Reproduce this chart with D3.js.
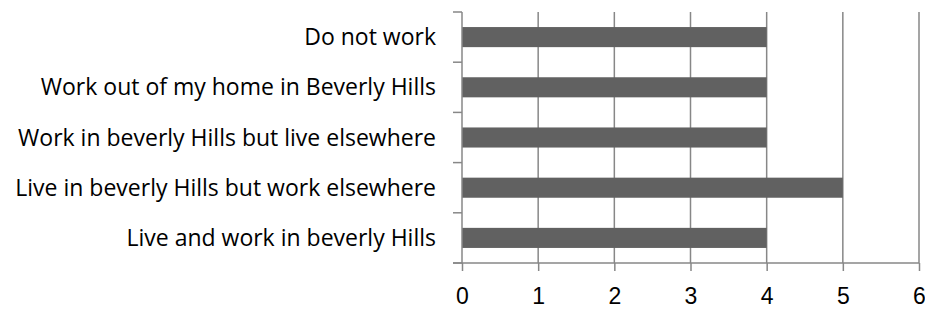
<!DOCTYPE html>
<html>
<head>
    <meta charset="utf-8">
    <style>
        body { margin: 0; background: #fff; }
        svg { display: block; font-family: "Open Sans", Arial, sans-serif; }
        .tick text { font-size: 23px; fill: #000; }
    </style>
</head>
<body>
<svg width="925" height="309"></svg>
<script src="https://d3js.org/d3.v7.min.js"></script>
<script>
    // categories, top to bottom
    let categories = [
        "Do not work",
        "Work out of my home in Beverly Hills",
        "Work in beverly Hills but live elsewhere",
        "Live in beverly Hills but work elsewhere",
        "Live and work in beverly Hills"
    ]
    let values = [4, 4, 4, 5, 4]
    let xTicks = [0, 1, 2, 3, 4, 5, 6]

    let data = categories.map((c, i) => ({ name: c, value: values[i] }))

    let margin = { top: 12, right: 6, bottom: 46, left: 462 }
    let width = 925, height = 309

    let svg = d3.select("svg")
    let axisColor = "#878787"

    let x = d3.scaleLinear()
        .domain([0, 6])
        .range([margin.left, width - margin.right])

    let y = d3.scaleBand()
        .domain(categories)
        .range([margin.top, height - margin.bottom])
        .paddingInner(0.6)
        .paddingOuter(0.3)

    // vertical gridlines
    svg.append("g")
        .selectAll("line")
        .data(xTicks.slice(1))
        .join("line")
        .attr("x1", d => x(d))
        .attr("x2", d => x(d))
        .attr("y1", margin.top)
        .attr("y2", height - margin.bottom)
        .attr("stroke", axisColor)
        .attr("stroke-width", 1.5)

    // bars
    svg.append("g")
        .selectAll("rect")
        .data(data)
        .join("rect")
        .attr("x", x(0))
        .attr("y", d => y(d.name))
        .attr("width", d => x(d.value) - x(0))
        .attr("height", y.bandwidth())
        .attr("fill", "#616161")

    // x axis
    let xAxis = svg.append("g")
        .attr("transform", `translate(0,${height - margin.bottom})`)
        .call(d3.axisBottom(x).tickValues(xTicks).tickFormat(d3.format("d"))
            .tickSize(8).tickPadding(17).tickSizeOuter(0))
    xAxis.select(".domain").attr("stroke", axisColor).attr("stroke-width", 1.5)
        .attr("d", `M${x(0) - 9},0H${x(6)}`)
    xAxis.selectAll(".tick line").attr("stroke", axisColor).attr("stroke-width", 1.5)

    // y axis: ticks sit on the band boundaries
    let boundaries = d3.range(categories.length + 1).map(i => margin.top + i * (height - margin.bottom - margin.top) / categories.length)
    let yAxis = svg.append("g")
    yAxis.append("line")
        .attr("x1", x(0)).attr("x2", x(0))
        .attr("y1", margin.top).attr("y2", height - margin.bottom)
        .attr("stroke", axisColor).attr("stroke-width", 1.5)
    yAxis.selectAll(".bt")
        .data(boundaries)
        .join("line")
        .attr("class", "bt")
        .attr("x1", x(0) - 9).attr("x2", x(0))
        .attr("y1", d => d).attr("y2", d => d)
        .attr("stroke", axisColor).attr("stroke-width", 1.5)

    // category labels
    yAxis.selectAll("text")
        .data(categories)
        .join("text")
        .attr("x", x(0) - 26)
        .attr("y", d => y(d) + y.bandwidth() / 2)
        .attr("dy", "0.35em")
        .attr("text-anchor", "end")
        .style("font-size", "23px")
        .text(d => d)
</script>
</body>
</html>
